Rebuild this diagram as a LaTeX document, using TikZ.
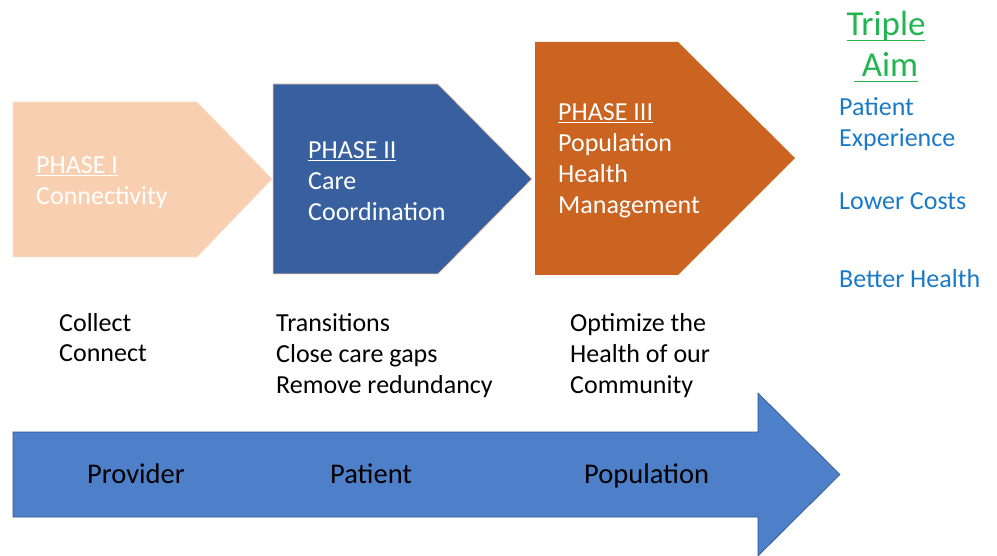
\documentclass[tikz,border=0pt]{standalone}
\usepackage{fontspec}
\setmainfont{Carlito}
\definecolor{peach}{HTML}{F8CFB0}
\definecolor{peachedge}{HTML}{FBE0CC}
\definecolor{phtwo}{HTML}{385F9E}
\definecolor{phthree}{HTML}{CA6420}
\definecolor{bigblue}{HTML}{4E7FC9}
\definecolor{bigedge}{HTML}{2F528F}
\definecolor{aimgreen}{HTML}{22B552}
\definecolor{aimblue}{HTML}{1A7AC8}
\newsavebox{\ulbox}
\newcommand{\thickul}[1]{\sbox{\ulbox}{#1}\rlap{\raisebox{-5.5pt}{\rule{\wd\ulbox}{1.6pt}}}\usebox{\ulbox}}
\begin{document}
\begin{tikzpicture}[x=1pt,y=-1pt,
  lbl/.style={anchor=base west,inner sep=0pt,align=left,font=\fontsize{26}{31}\selectfont},
  phtxt/.style={lbl,text=white},
  blk/.style={lbl,text=black},
  aim/.style={lbl,text=aimblue},
  big/.style={anchor=base west,inner sep=0pt,font=\fontsize{28.5}{34}\selectfont,text=black},
  triple/.style={anchor=base,inner sep=0pt,align=center,text=aimgreen,font=\fontsize{35}{41}\selectfont}]
\useasboundingbox (0,0) rectangle (997,556);
% Phase shapes
\draw[fill=peach,draw=peachedge,line width=0.8pt] (13,102) -- (197,102) -- (272,179) -- (197,257) -- (13,257) -- cycle;
\draw[fill=phtwo,draw=peach,line width=0.8pt] (273,84) -- (438,84) -- (532,179) -- (438,274) -- (273,274) -- cycle;
\fill[phthree] (535,42) -- (678,42) -- (795,158) -- (678,275) -- (535,275) -- cycle;
% big arrow
\draw[fill=bigblue,draw=bigedge,line width=0.6pt] (13,432) -- (758,432) -- (758,393) -- (840,474.5) -- (758,556) -- (758,517) -- (13,517) -- cycle;
% phase texts (anchor = baseline of last line)
\node[phtxt] (p1) at (36,205) {\underline{PHASE I}\\Connectivity};
\node[phtxt] (p2) at (308,221) {\underline{PHASE II}\\Care\\Coordination};
\node[phtxt] (p3) at (558,214) {\underline{PHASE III}\\Population\\Health\\Management};
% below texts
\node[blk] (b1) at (59,362) {Collect\\Connect};
\node[blk] (b2) at (276,393) {Transitions\\Close care gaps\\Remove redundancy};
\node[blk] (b3) at (570,393) {Optimize the\\Health of our\\Community};
% arrow labels
\node[big] (l1) at (87,483) {Provider};
\node[big] (l2) at (330,483) {Patient};
\node[big] (l3) at (584,483) {Population};
% triple aim
\node[triple] (t1) at (886,36) {\thickul{Triple}};
\node[triple] (t2) at (886,77) {\thickul{\ Aim}};
\node[aim] (a1) at (839,147) {Patient\\Experience};
\node[aim] (a2) at (839,210) {Lower Costs};
\node[aim] (a3) at (839,288) {Better Health};
\end{tikzpicture}
\end{document}
